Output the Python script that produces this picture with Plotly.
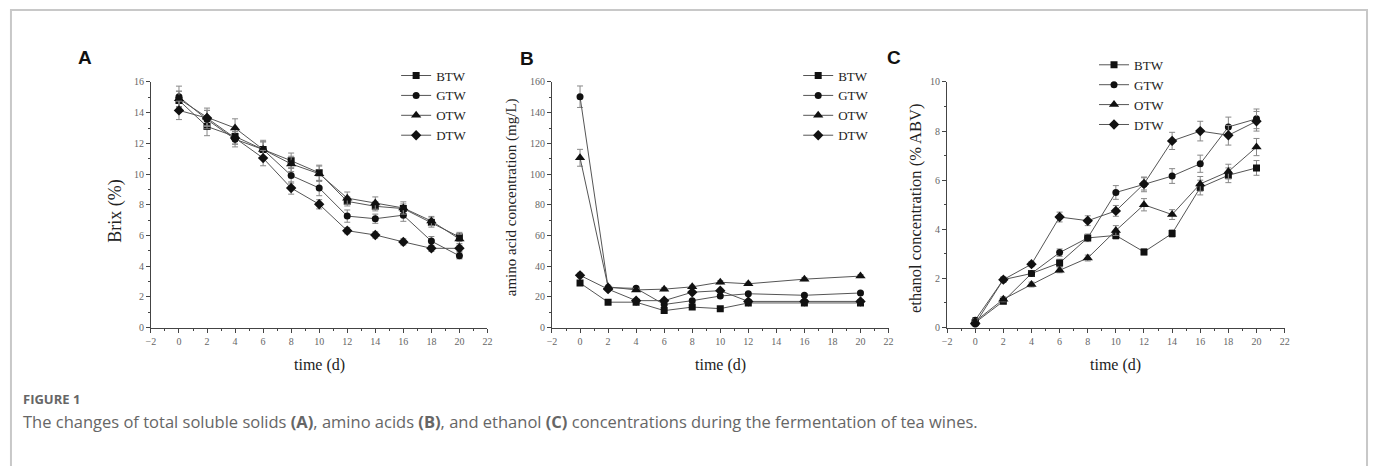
import plotly.graph_objects as go

W, H = 1375, 466

# ---------- data ----------
series = ["BTW", "GTW", "OTW", "DTW"]
symbols = ["square", "circle", "triangle-up", "diamond"]

days_a = [0, 2, 4, 6, 8, 10, 12, 14, 16, 18, 20]
brix_btw = [14.8, 13.1, 12.45, 11.6, 10.87, 10.08, 8.22, 7.9, 7.75, 6.84, 5.9]
brix_gtw = [15.03, 13.55, 12.27, 11.6, 9.91, 9.09, 7.26, 7.09, 7.32, 5.63, 4.67]
brix_otw = [14.9, 13.7, 13.0, 11.6, 10.66, 10.02, 8.43, 8.11, 7.79, 6.94, 5.77]
brix_dtw = [14.15, 13.65, 12.35, 11.04, 9.09, 8.03, 6.31, 6.03, 5.58, 5.16, 5.16]
brix_err_btw = [0.6, 0.6, 0.5, 0.5, 0.5, 0.5, 0.3, 0.3, 0.3, 0.3, 0.3]
brix_err_gtw = [0.7, 0.6, 0.5, 0.5, 0.5, 0.5, 0.4, 0.3, 0.4, 0.3, 0.2]
brix_err_otw = [0.5, 0.6, 0.6, 0.6, 0.5, 0.5, 0.4, 0.4, 0.4, 0.3, 0.3]
brix_err_dtw = [0.6, 0.5, 0.4, 0.5, 0.4, 0.3, 0.2, 0.2, 0.2, 0.2, 0.2]

days_b = [0, 2, 4, 6, 8, 10, 12, 16, 20]
aa_btw = [29, 16.5, 16.5, 11, 13.3, 12.3, 16, 16, 16]
aa_gtw = [150.4, 26, 25.5, 15, 17.5, 20.5, 22, 21, 22.5]
aa_otw = [110.6, 26.5, 24.5, 25, 26.5, 29.5, 28.5, 31.5, 33.5]
aa_dtw = [34, 25, 17.5, 17.5, 23, 24, 17, 17, 17]
aa_err_btw = [1, 1, 1, 1, 1, 1, 1, 1, 1]
aa_err_gtw = [7, 1, 1, 1, 1, 1, 1, 1, 1]
aa_err_otw = [5.5, 1, 1, 1, 1, 1, 1, 1, 1]
aa_err_dtw = [1.5, 1, 1, 1, 1, 1, 1, 1, 1]

days_c = [0, 2, 4, 6, 8, 10, 12, 14, 16, 18, 20]
eth_btw = [0.2, 1.07, 2.2, 2.63, 3.65, 3.75, 3.08, 3.83, 5.7, 6.2, 6.5]
eth_gtw = [0.3, 1.95, 2.2, 3.05, 3.65, 5.5, 5.83, 6.17, 6.67, 8.17, 8.5]
eth_otw = [0.25, 1.15, 1.75, 2.33, 2.83, 3.95, 5.0, 4.6, 5.85, 6.35, 7.35]
eth_dtw = [0.15, 1.95, 2.58, 4.5, 4.35, 4.75, 5.85, 7.6, 8.0, 7.83, 8.4]
eth_err_btw = [0.1, 0.1, 0.1, 0.15, 0.15, 0.15, 0.12, 0.15, 0.3, 0.3, 0.3]
eth_err_gtw = [0.1, 0.1, 0.1, 0.15, 0.15, 0.28, 0.3, 0.3, 0.35, 0.4, 0.4]
eth_err_otw = [0.1, 0.1, 0.1, 0.1, 0.12, 0.2, 0.25, 0.2, 0.3, 0.3, 0.35]
eth_err_dtw = [0.1, 0.1, 0.1, 0.2, 0.2, 0.22, 0.25, 0.35, 0.4, 0.4, 0.4]

panel_labels = ["A", "B", "C"]
y_titles = ["Brix (%)", "amino acid concentration (mg/L)", "ethanol concentration (% ABV)"]
x_title = "time (d)"
caption_head = "FIGURE 1"
caption_text = ("The changes of total soluble solids <b>(A)</b>, amino acids <b>(B)</b>, "
                "and ethanol <b>(C)</b> concentrations during the fermentation of tea wines.")

# ---------- figure ----------
panels = [
    (days_a, [brix_btw, brix_gtw, brix_otw, brix_dtw],
     [brix_err_btw, brix_err_gtw, brix_err_otw, brix_err_dtw], [0, 16], 2),
    (days_b, [aa_btw, aa_gtw, aa_otw, aa_dtw],
     [aa_err_btw, aa_err_gtw, aa_err_otw, aa_err_dtw], [0, 160], 20),
    (days_c, [eth_btw, eth_gtw, eth_otw, eth_dtw],
     [eth_err_btw, eth_err_gtw, eth_err_otw, eth_err_dtw], [0, 10], 2),
]

marker_sizes = [7, 7, 9, 8]
px_x = [(147, 486), (551, 890), (949, 1289)]
y_dom = [(H - 330) / H, (H - 78) / H]
legend_pos = [(394, 56), (799, 56), (1097, 45)]
label_pos = [(81, 53), (526, 54), (896, 53)]
ytitle_pos = [(111, 211, 18), (511, 196, 15), (917, 208, 16.5)]

serif = "Liberation Serif"
fig = go.Figure()

for i, (xs, ys_list, errs, yr, dtick) in enumerate(panels):
    ax = "" if i == 0 else str(i + 1)
    leg = "legend" if i == 0 else f"legend{i + 1}"
    for name, sym, msz, ys, er in zip(series, symbols, marker_sizes, ys_list, errs):
        fig.add_trace(go.Scatter(
            x=xs, y=ys, name=name, mode="lines+markers",
            xaxis="x" + ax, yaxis="y" + ax, legend=leg,
            line=dict(color="#555555", width=1),
            marker=dict(symbol=sym, size=msz, color="#111111"),
            error_y=dict(type="data", array=er, color="#888888", thickness=1, width=3),
        ))
    x0, x1 = px_x[i]
    common = dict(showline=True, linecolor="#444444", linewidth=1, showgrid=False,
                  zeroline=False, ticks="outside", ticklen=4, tickcolor="#444444",
                  tickfont=dict(family=serif, size=10, color="#666666"))
    fig.layout["xaxis" + ax] = dict(
        domain=[x0 / W, x1 / W], range=[-2, 22], tick0=-2, dtick=2, anchor="y" + ax,
        minor=dict(ticks="outside", ticklen=2, dtick=1, tickcolor="#444444"),
        **common)
    fig.layout["yaxis" + ax] = dict(
        domain=y_dom, range=yr, dtick=dtick, anchor="x" + ax,
        minor=dict(ticks="outside", ticklen=2, dtick=dtick / 2, tickcolor="#444444"),
        **common)
    # x title
    fig.add_annotation(x=(x0 + x1) / 2 / W, y=(H - 369) / H, xref="paper", yref="paper",
                       xanchor="center", yanchor="middle", text=x_title, showarrow=False,
                       font=dict(family=serif, size=16, color="#222222"))
    # y title
    tx, ty, tsz = ytitle_pos[i]
    fig.add_annotation(x=tx / W, y=(H - ty) / H, xref="paper", yref="paper",
                       xanchor="center", yanchor="middle",
                       text=y_titles[i], textangle=-90, showarrow=False,
                       font=dict(family=serif, size=tsz, color="#222222"))
    lx, ly = legend_pos[i]
    fig.layout[leg] = dict(x=lx / W, y=(H - ly) / H, xanchor="left", yanchor="top",
                           bgcolor="rgba(0,0,0,0)", tracegroupgap=0,
                           font=dict(family=serif, size=13, color="#222222"),
                           itemwidth=30)
    fig.add_annotation(x=label_pos[i][0] / W, y=(H - label_pos[i][1]) / H,
                       xref="paper", yref="paper", xanchor="center", yanchor="middle",
                       text=f"<b>{panel_labels[i]}</b>",
                       showarrow=False, font=dict(family="Liberation Sans", size=19, color="#111111"))

# caption
fig.add_annotation(x=16 / W, y=(H - 403) / H, xref="paper", yref="paper",
                   xanchor="left", yanchor="middle",
                   text=f"<b>{caption_head}</b>", showarrow=False,
                   font=dict(family="Open Sans", size=13, color="#666666"))
fig.add_annotation(x=16 / W, y=(H - 426) / H, xref="paper", yref="paper",
                   xanchor="left", yanchor="middle",
                   text=caption_text, showarrow=False,
                   font=dict(family="Open Sans", size=16.5, color="#666666"))

# border
fig.add_shape(type="rect", xref="paper", yref="paper",
              x0=6 / W, x1=1372 / W, y0=-0.05, y1=(H - 4) / H,
              line=dict(color="#c8c8c8", width=2), fillcolor="rgba(0,0,0,0)")

fig.update_layout(width=W, height=H, margin=dict(l=0, r=0, t=0, b=0),
                  plot_bgcolor="white", paper_bgcolor="white", showlegend=True)

fig.write_html("out.html")
